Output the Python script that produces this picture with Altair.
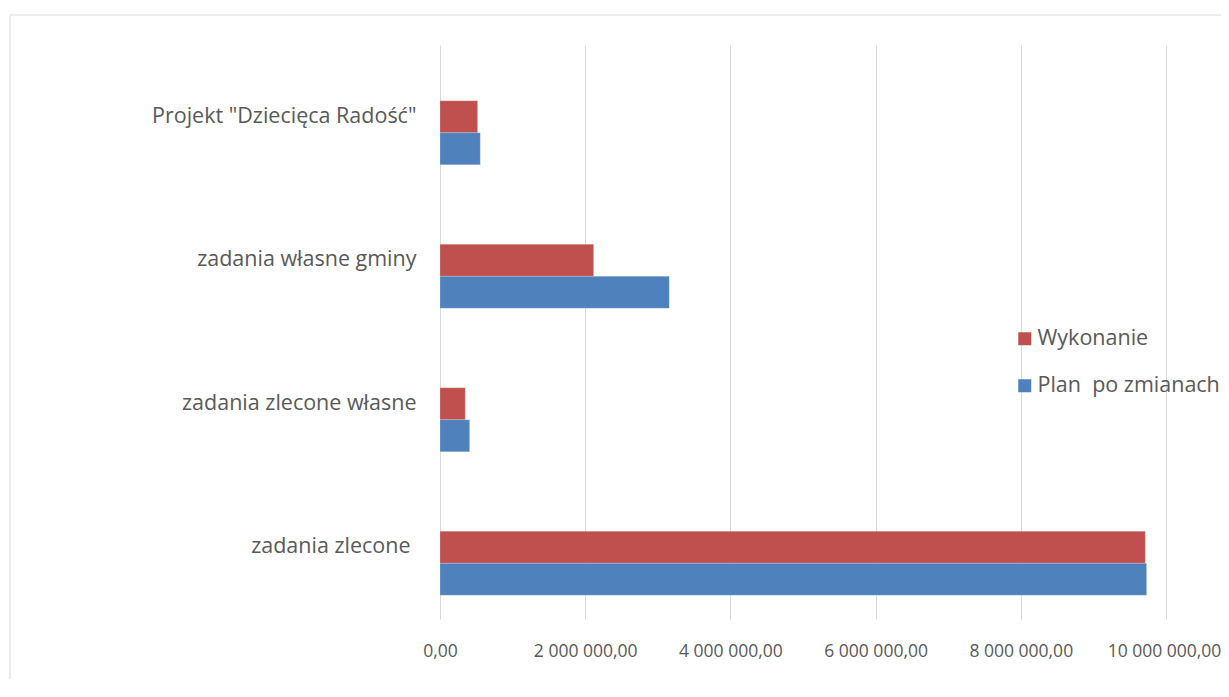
import altair as alt
import pandas as pd

kategorie = ['Projekt "Dziecięca Radość"', "zadania własne gminy", "zadania zlecone własne", "zadania zlecone "]
serie = ["Wykonanie", "Plan\u00a0 po zmianach"]
wykonanie = [518000, 2116000, 348000, 9715000]
plan_po_zmianach = [555000, 3158000, 408000, 9733000]
x_ticks = [0, 2000000, 4000000, 6000000, 8000000, 10000000]

rows = []
for k, w, p in zip(kategorie, wykonanie, plan_po_zmianach):
    rows.append({"kategoria": k, "seria": serie[0], "wartosc": w})
    rows.append({"kategoria": k, "seria": serie[1], "wartosc": p})
df = pd.DataFrame(rows)

TXT = "#595959"
GRID = "#d9d9d9"
FONT = "Open Sans"

bars = alt.Chart(df).mark_bar(stroke="white", strokeWidth=0.5, strokeOpacity=0.4).encode(
    y=alt.Y("kategoria:N", sort=kategorie, title=None,
            scale=alt.Scale(paddingInner=0, paddingOuter=0),
            axis=alt.Axis(domain=False, ticks=False, grid=False, labelFontSize=21.5,
                          labelColor=TXT, labelFont=FONT,
                          labelPadding={"condition": {"test": "datum.value === 'zadania zlecone '", "value": 30},
                                        "value": 24},
                          labelLimit=430)),
    yOffset=alt.YOffset("seria:N",
                        scale=alt.Scale(domain=["_pusta"] + serie, paddingInner=0, paddingOuter=0.742)),
    x=alt.X("wartosc:Q", title=None,
            scale=alt.Scale(domain=[0, 10000000], nice=False),
            axis=alt.Axis(values=x_ticks, domain=False, ticks=False, grid=True, gridColor=GRID,
                          gridWidth=1, labelFontSize=17.5, labelColor=TXT, labelFont=FONT,
                          labelPadding=23, labelOverlap=False, labelFlush=False,
                          labelOffset={"condition": {"test": "datum.value >= 10000000", "value": -2},
                                       "value": 0},
                          labelExpr="replace(join(split(replace(format(datum.value, ',.2f'), '.', '#'), ','), ' '), '#', ',')")),
    color=alt.Color("seria:N", title=None,
                    scale=alt.Scale(domain=serie, range=["#C0504D", "#4F81BD"]),
                    legend=alt.Legend(orient="none", legendX=574, legendY=283, symbolType="square",
                                      symbolSize=169, symbolStrokeWidth=0, labelFontSize=21.5,
                                      labelColor=TXT, labelFont=FONT, labelOffset=2, rowPadding=24,
                                      labelLimit=300, padding=0)),
)

frame = alt.Chart(alt.Data(values=[{"a": 1}])).mark_rect(filled=False, stroke=GRID, strokeWidth=1).encode(
    x=alt.value(-430), x2=alt.value(900), y=alt.value(-30), y2=alt.value(800)
)

chart = alt.layer(frame, bars).properties(
    width=726, height=574,
    autosize=alt.AutoSizeParams(type="none"),
    padding={"left": 432, "top": 37, "right": 55, "bottom": 60},
    background="white",
).configure_view(strokeWidth=0)

chart.save("out.html", embed_options={"renderer": "svg", "actions": False})
